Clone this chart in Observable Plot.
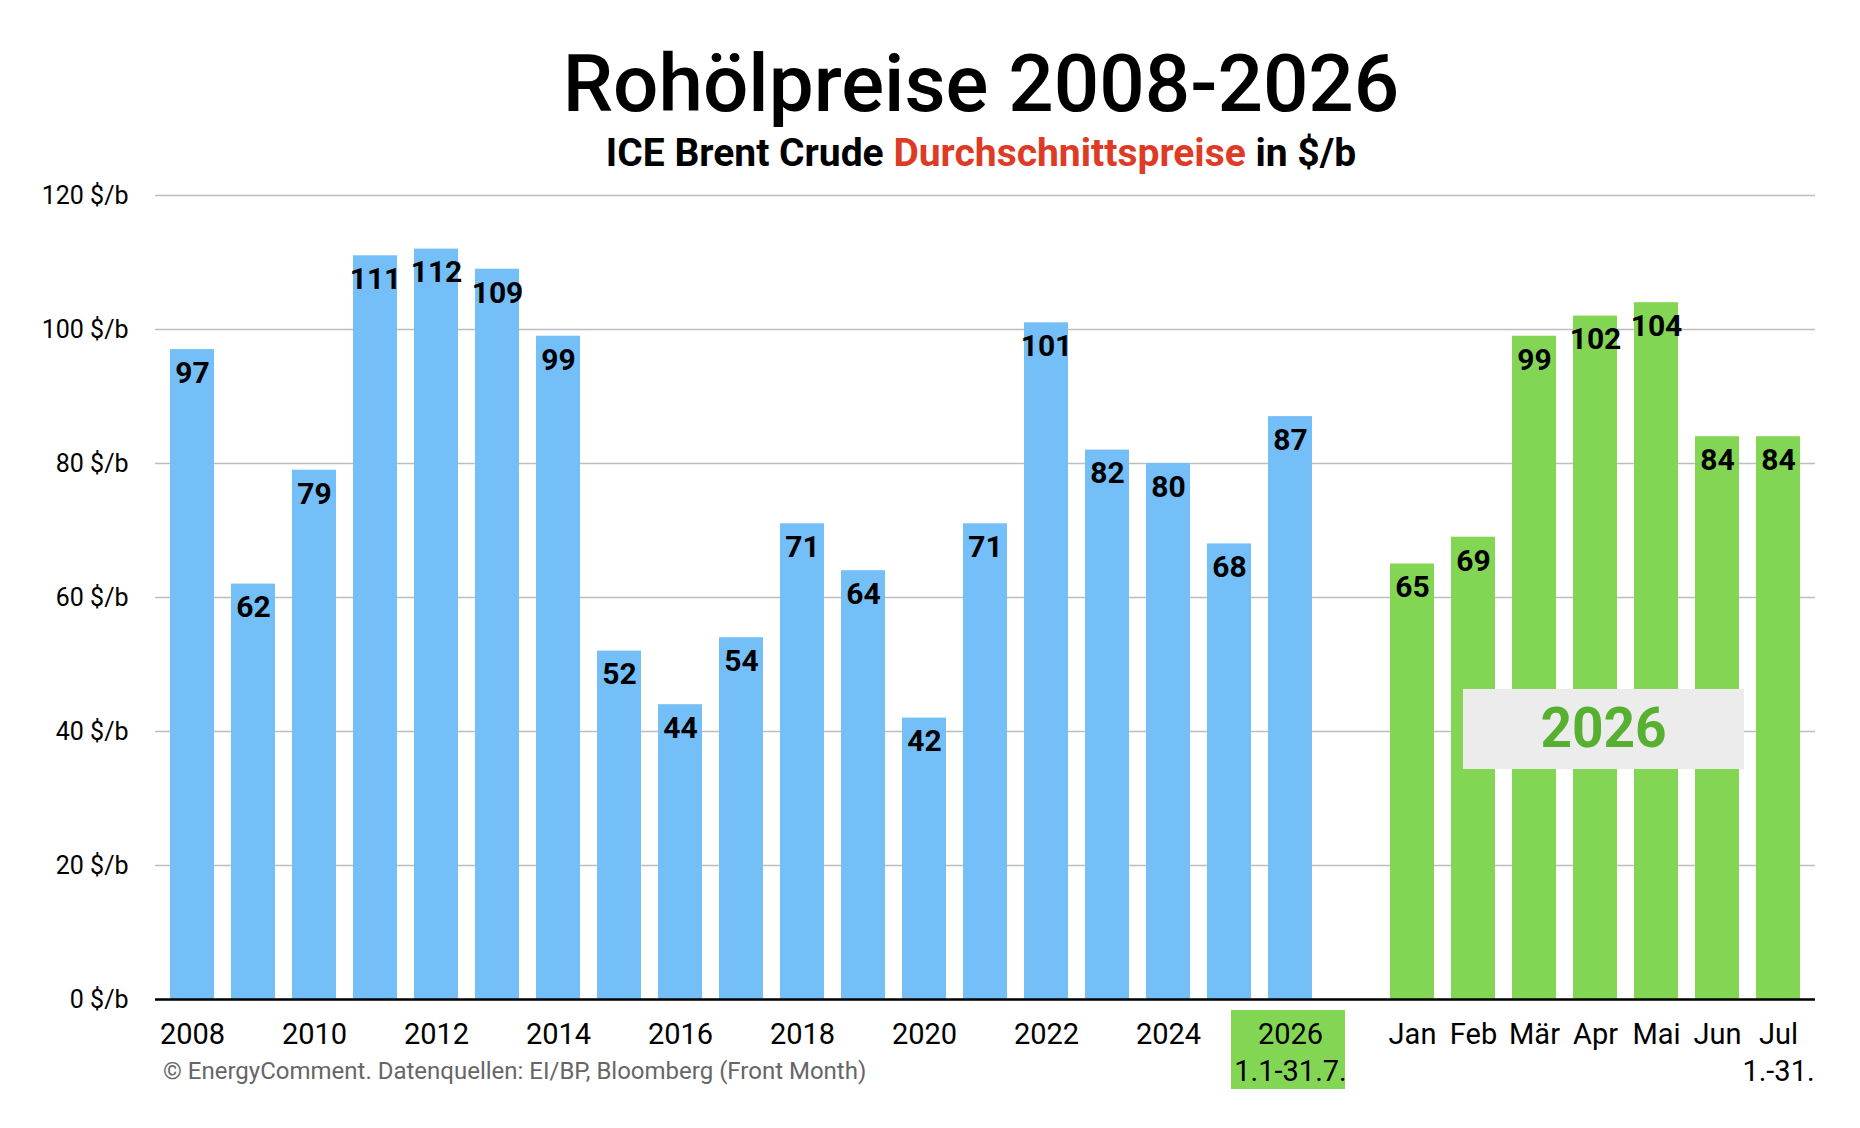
<!DOCTYPE html>
<html>
<head>
<meta charset="utf-8">
<script src="https://cdn.jsdelivr.net/npm/d3@7"></script>
<script src="https://cdn.jsdelivr.net/npm/@observablehq/plot@0.6"></script>
<style>
  body { margin: 0; background: #fff; font-family: Roboto, "Noto Sans", sans-serif; }
  #wrap { position: relative; width: 1860px; height: 1128px; overflow: hidden; background: #fff; }
  .title { position: absolute; left: 148px; width: 1666px; text-align: center; top: 44px;
           font-size: 80px; line-height: 1; font-weight: 500; color: #000; white-space: nowrap; }
  .sub { position: absolute; left: 148px; width: 1666px; text-align: center; top: 134px;
         font-size: 39px; line-height: 1; font-weight: 700; color: #000; white-space: nowrap; }
  .sub .red { color: #de3b26; }
  #chart { position: absolute; left: 0; top: 170px; }
  .caption { position: absolute; left: 163px; top: 1059px; font-size: 24px; line-height: 1; color: #666; white-space: nowrap; }
</style>
</head>
<body>
<div id="wrap">
  <div class="title">Rohölpreise 2008-2026</div>
  <div class="sub">ICE Brent Crude <span class="red">Durchschnittspreise</span> in $/b</div>
  <div id="chart"></div>
  <div class="caption">© EnergyComment. Datenquellen: EI/BP, Bloomberg (Front Month)</div>
</div>
<script>
// ---- data ----
const years = ["2008","2009","2010","2011","2012","2013","2014","2015","2016","2017",
               "2018","2019","2020","2021","2022","2023","2024","2025","2026"];
const yearPrices = [97,62,79,111,112,109,99,52,44,54,71,64,42,71,101,82,80,68,87];
const months = ["Jan","Feb","Mär","Apr","Mai","Jun","Jul"];
const monthPrices = [65,69,99,102,104,84,84];
const gapKey = " ";
const yTicks = [0,20,40,60,80,100,120];
const xTickKeys = ["2008","2010","2012","2014","2016","2018","2020","2022","2024","2026",
                   "Jan","Feb","Mär","Apr","Mai","Jun","Jul"];
const xTickLabels = ["2008","2010","2012","2014","2016","2018","2020","2022","2024","2026\n1.1-31.7.",
                     "Jan","Feb","Mär","Apr","Mai","Jun","Jul\n1.-31."];
const highlightTick = "2026";
const noteData = [{x: "Apr", y: 40, text: "2026"}];

// ---- derived tables ----
const yearData = years.map((label, i) => ({label, value: yearPrices[i]}));
const monthData = months.map((label, i) => ({label, value: monthPrices[i]}));
const allData = [...yearData, ...monthData];
const xDomain = [...years, gapKey, ...months];
const tickMap = new Map(xTickKeys.map((k, i) => [k, xTickLabels[i]]));

const BLUE = "#74bff8", GREEN = "#83d654";

function boxes(index, scales) {
  const sx = scales.x, sy = scales.y;
  const bw = typeof sx.bandwidth === "function" ? sx.bandwidth() : (sx.bandwidth || 0);
  const g = d3.create("svg:g");
  // green box behind the 2026 tick label
  const cx1 = sx(highlightTick) + bw / 2 - 2;
  g.append("rect").attr("x", cx1 - 57).attr("y", sy(0) + 11).attr("width", 114).attr("height", 79)
    .attr("fill", GREEN);
  // grey box of the annotation
  for (const n of noteData) {
    const cx = sx(n.x) + bw / 2 + 8;
    const cy = sy(n.y) - 2;
    g.append("rect").attr("x", cx - 140).attr("y", cy - 40).attr("width", 281).attr("height", 80)
      .attr("fill", "#ececec");
  }
  return g.node();
}

const chart = Plot.plot({
  width: 1860,
  height: 958,
  marginTop: 25,
  marginBottom: 129,
  marginLeft: 155,
  marginRight: 45,
  style: {fontFamily: "Roboto, 'Noto Sans', sans-serif", background: "transparent", overflow: "visible"},
  x: {type: "band", domain: xDomain, paddingInner: 0.284, paddingOuter: 0.142, axis: null},
  y: {domain: [0, 120], axis: null},
  marks: [
    Plot.gridY(yTicks, {stroke: "#bdbdbd", strokeOpacity: 1, strokeWidth: 1.5}),
    Plot.barY(yearData, {x: "label", y: "value", fill: BLUE}),
    Plot.barY(monthData, {x: "label", y: "value", fill: GREEN}),
    boxes,
    Plot.text(noteData, {x: "x", y: "y", text: "text", dx: 8, dy: -2, fontSize: 55, fontWeight: "bold", fill: "#57b030"}),
    Plot.text(allData, {x: "label", y: "value", text: d => String(d.value), lineAnchor: "top", dy: 12,
                        fontSize: 30, fontWeight: "bold", fill: "#000"}),
    Plot.axisX({ticks: xTickKeys, tickFormat: d => tickMap.get(d) ?? "", tickSize: 0, tickPadding: 19,
                fontSize: 29, lineHeight: 1.26, label: null, fill: "#000"}),
    Plot.axisY({ticks: yTicks, tickFormat: d => `${d} $/b`, tickSize: 0, tickPadding: 27,
                fontSize: 25, label: null, fill: "#000"}),
    Plot.ruleY([0], {stroke: "#000", strokeWidth: 2.5})
  ]
});
document.getElementById("chart").appendChild(chart);
</script>
</body>
</html>
